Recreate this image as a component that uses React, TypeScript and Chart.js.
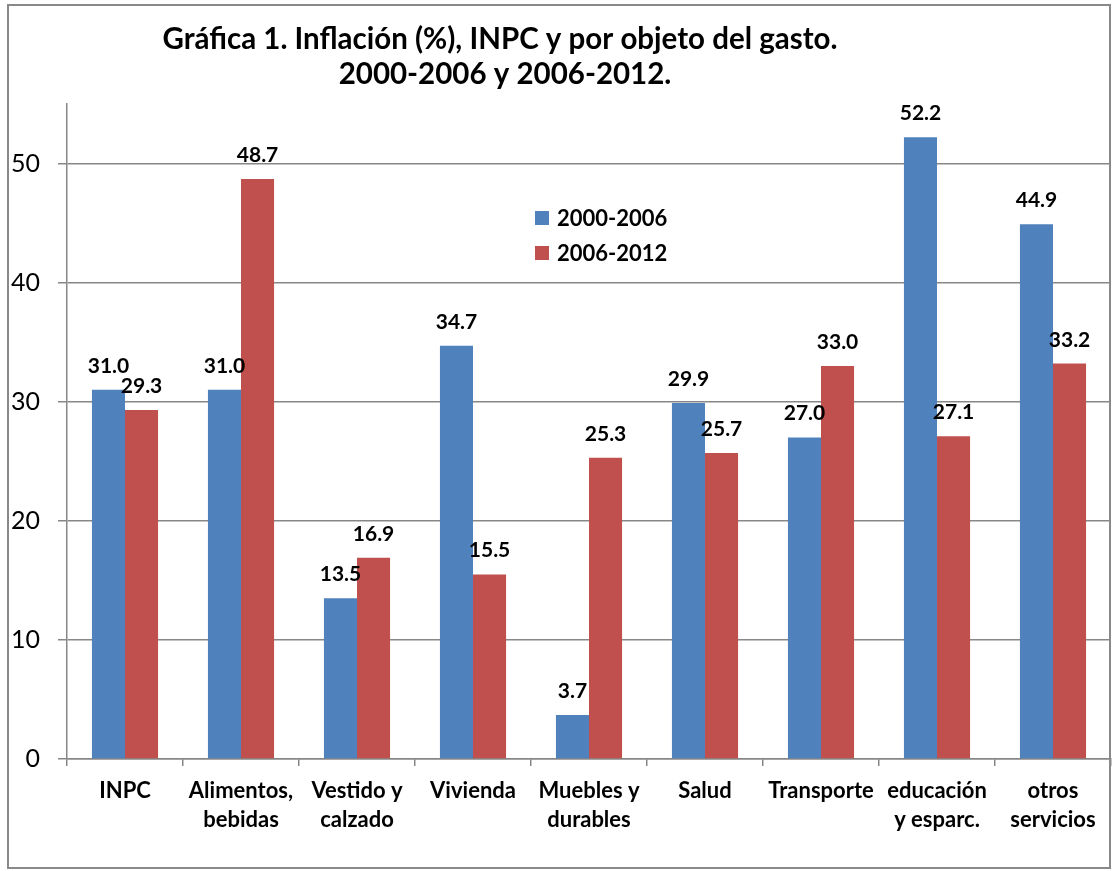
import React, { useEffect, useRef } from "react";
import { Chart, registerables } from "chart.js";

Chart.register(...registerables);

const categories: string[][] = [
  ["INPC"],
  ["Alimentos,", "bebidas"],
  ["Vestido y", "calzado"],
  ["Vivienda"],
  ["Muebles y", "durables"],
  ["Salud"],
  ["Transporte"],
  ["educación", "y esparc."],
  ["otros", "servicios"],
];
const series2000_2006 = [31.0, 31.0, 13.5, 34.7, 3.7, 29.9, 27.0, 52.2, 44.9];
const series2006_2012 = [29.3, 48.7, 16.9, 15.5, 25.3, 25.7, 33.0, 27.1, 33.2];
const seriesNames = ["2000-2006", "2006-2012"];
const yTicks = [0, 10, 20, 30, 40, 50];
const titleLines = ["Gráfica 1. Inflación (%), INPC y por objeto del gasto.", "2000-2006 y 2006-2012."];

const BLUE = "#4F81BD";
const RED = "#C0504D";
const FONT = "Lato, 'Open Sans', sans-serif";

const overlayPlugin = {
  id: "overlay",
  afterDraw(chart: any) {
    const ctx = chart.ctx;
    ctx.save();
    // data labels
    ctx.fillStyle = "#000";
    ctx.font = `bold 21px ${FONT}`;
    ctx.textAlign = "center";
    ctx.textBaseline = "alphabetic";
    chart.data.datasets.forEach((ds: any, i: number) => {
      const meta = chart.getDatasetMeta(i);
      meta.data.forEach((bar: any, j: number) => {
        ctx.fillText(Number(ds.data[j]).toFixed(1), bar.x, bar.y - 17);
      });
    });
    // title
    ctx.font = `bold 29.5px ${FONT}`;
    ctx.fillText(titleLines[0], 500, 49);
    ctx.fillText(titleLines[1], 505, 84);
    // legend
    ctx.font = `bold 22px ${FONT}`;
    ctx.textAlign = "left";
    ctx.textBaseline = "middle";
    chart.data.datasets.forEach((ds: any, i: number) => {
      const y = 218 + i * 35;
      ctx.fillStyle = ds.backgroundColor;
      ctx.fillRect(535, y - 7, 14, 14);
      ctx.fillStyle = "#000";
      ctx.fillText(ds.label, 557, y + 1);
    });
    ctx.restore();
  },
};

export default function App() {
  const ref = useRef<HTMLCanvasElement>(null);
  useEffect(() => {
    if (!ref.current) return;
    const chart = new Chart(ref.current, {
      type: "bar",
      data: {
        labels: categories,
        datasets: [
          { label: seriesNames[0], data: series2000_2006, backgroundColor: BLUE, borderWidth: 0 },
          { label: seriesNames[1], data: series2006_2012, backgroundColor: RED, borderWidth: 0 },
        ],
      },
      options: {
        animation: false,
        responsive: false,
        maintainAspectRatio: false,
        layout: { padding: { top: 104, right: 4, bottom: 0, left: 0 } },
        plugins: {
          legend: { display: false },
          title: { display: false },
          tooltip: { enabled: false },
        },
        datasets: { bar: { categoryPercentage: 0.57, barPercentage: 1.0 } },
        scales: {
          x: {
            grid: {
              offset: true,
              drawOnChartArea: false,
              drawTicks: true,
              tickLength: 7,
              color: "#878787",
              lineWidth: 1.5,
            },
            border: { color: "#878787", width: 1.5 },
            ticks: {
              color: "#000",
              font: { family: FONT, size: 22, weight: "bold", lineHeight: 1.3 },
              padding: 11,
              maxRotation: 0,
              autoSkip: false,
            },
            afterFit: (scale: any) => {
              scale.height = 871 - 759;
            },
          },
          y: {
            min: 0,
            max: 55,
            ticks: {
              stepSize: 10,
              color: "#000",
              font: { family: FONT, size: 25 },
              padding: 18,
            },
            afterBuildTicks: (scale: any) => {
              scale.ticks = yTicks.map((v) => ({ value: v }));
            },
            grid: { color: "#878787", lineWidth: 1.5, tickLength: 9 },
            border: { color: "#878787", width: 1.5 },
            afterFit: (scale: any) => {
              scale.width = 67;
            },
          },
        },
      },
      plugins: [overlayPlugin],
    } as any);
    return () => chart.destroy();
  }, []);

  return (
    <div style={{ position: "fixed", left: 0, top: 0, width: 1115, height: 871, background: "#fff" }}>
      <canvas ref={ref} width={1115} height={871} style={{ position: "absolute", left: 0, top: 0 }} />
      <div
        style={{
          position: "absolute",
          left: 7,
          top: 4,
          width: 1104,
          height: 865,
          boxSizing: "border-box",
          border: "2px solid #898989",
          pointerEvents: "none",
        }}
      />
    </div>
  );
}
